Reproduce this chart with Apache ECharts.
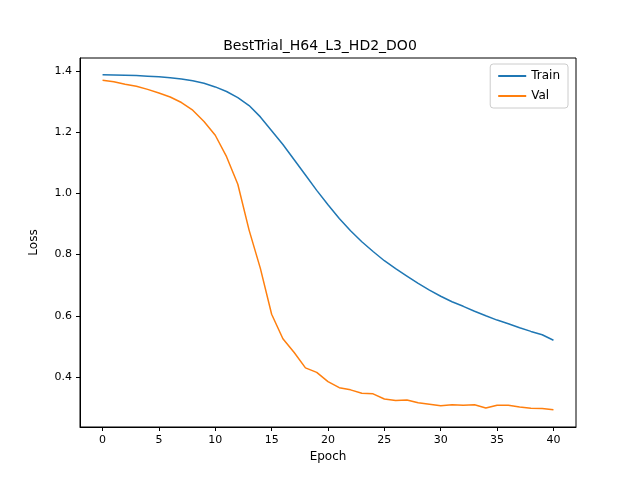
<!DOCTYPE html><html><head><meta charset="utf-8"><script src="https://cdn.jsdelivr.net/npm/echarts@6/dist/echarts.min.js"></script></head><body style="margin:0"><div id="c" style="width:640px;height:480px"></div><script>
const epochs=[...Array(41).keys()];
const train=[1.388,1.387,1.386,1.385,1.383,1.381,1.378,1.374,1.368,1.36,1.348,1.333,1.313,1.287,1.25,1.205,1.16,1.11,1.06,1.01,0.963,0.918,0.878,0.842,0.81,0.78,0.754,0.73,0.706,0.684,0.664,0.646,0.631,0.615,0.6,0.586,0.574,0.561,0.549,0.538,0.52];
const val=[1.37,1.365,1.357,1.35,1.34,1.328,1.315,1.297,1.272,1.235,1.19,1.12,1.03,0.88,0.755,0.605,0.525,0.48,0.43,0.415,0.385,0.365,0.358,0.347,0.345,0.328,0.323,0.325,0.316,0.311,0.306,0.309,0.308,0.309,0.299,0.308,0.308,0.302,0.298,0.297,0.293];
const xt=[0,5,10,15,20,25,30,35,40];
const yt=[0.4,0.6,0.8,1.0,1.2,1.4];
const f='DejaVu Sans';
const nts={fontFamily:f,fontSize:12,color:'#000'};
const c=echarts.init(document.getElementById('c'));
c.setOption({animation:false,
title:{text:'BestTrial_H64_L3_HD2_DO0',left:'center',top:34,textStyle:{fontFamily:f,fontSize:14,fontWeight:'normal',color:'#000'}},
grid:{left:80,right:64,top:58,bottom:53,show:true,borderColor:'#000',borderWidth:1,backgroundColor:'transparent'},
legend:{right:72,top:64,orient:'vertical',itemWidth:28,itemHeight:2,icon:'rect',borderColor:'#ccc',borderWidth:1,borderRadius:3,padding:[6,8],itemGap:8,textStyle:{fontFamily:f,fontSize:12,color:'#000'}},
xAxis:{type:'value',min:-2,max:42,name:'Epoch',nameLocation:'middle',nameGap:24,nameTextStyle:nts,position:'bottom',
 axisLine:{show:true,onZero:false,lineStyle:{color:'#000'}},
 axisTick:{show:true,inside:false,length:4,lineStyle:{color:'#000'},customValues:xt},
 axisLabel:{customValues:xt,fontFamily:f,fontSize:11,color:'#000'},splitLine:{show:false}},
yAxis:{type:'value',min:0.2366,max:1.4425,name:'Loss',nameLocation:'middle',nameGap:40,nameTextStyle:nts,position:'left',
 axisLine:{show:true,onZero:false,lineStyle:{color:'#000'}},
 axisTick:{show:true,length:4,lineStyle:{color:'#000'},customValues:yt},
 axisLabel:{customValues:yt,formatter:v=>v.toFixed(1),fontFamily:f,fontSize:11,color:'#000'},splitLine:{show:false}},
series:[{name:'Train',type:'line',data:epochs.map((e,i)=>[e,train[i]]),showSymbol:false,lineStyle:{color:'#1f77b4',width:1.5},itemStyle:{color:'#1f77b4'}},
{name:'Val',type:'line',data:epochs.map((e,i)=>[e,val[i]]),showSymbol:false,lineStyle:{color:'#ff7f0e',width:1.5},itemStyle:{color:'#ff7f0e'}}]});
</script></body></html>
